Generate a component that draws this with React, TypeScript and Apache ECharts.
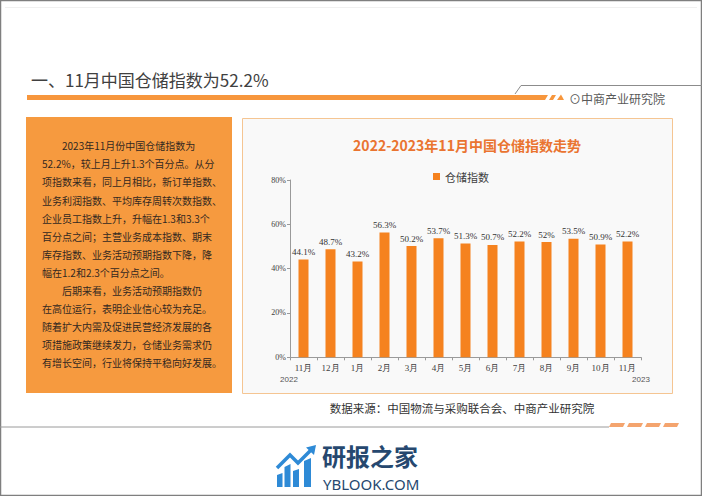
import React, { useEffect, useRef } from 'react';
import * as echarts from 'echarts';

const categories = ['11月', '12月', '1月', '2月', '3月', '4月', '5月', '6月', '7月', '8月', '9月', '10月', '11月'];
const storageIndex = [44.1, 48.7, 43.2, 56.3, 50.2, 53.7, 51.3, 50.7, 52.2, 52, 53.5, 50.9, 52.2];
const seriesName = '仓储指数';
const yMin = 0;
const yMax = 80;
const yInterval = 20;
const yearLabels = ['2022', '2023'];
const chartTitle = '2022-2023年11月中国仓储指数走势';
const pageTitle = '一、11月中国仓储指数为52.2%';
const brandText = '⊙中商产业研究院';
const sourceNote = '数据来源：中国物流与采购联合会、中商产业研究院';
const bodyLines = [
  '2023年11月份中国仓储指数为',
  '52.2%，较上月上升1.3个百分点。从分',
  '项指数来看，同上月相比，新订单指数、',
  '业务利润指数、平均库存周转次数指数、',
  '企业员工指数上升，升幅在1.3和3.3个',
  '百分点之间；主营业务成本指数、期末',
  '库存指数、业务活动预期指数下降，降',
  '幅在1.2和2.3个百分点之间。',
  '后期来看，业务活动预期指数仍',
  '在高位运行，表明企业信心较为充足。',
  '随着扩大内需及促进民营经济发展的各',
  '项措施政策继续发力，仓储业务需求仍',
  '有增长空间，行业将保持平稳向好发展。',
];
const indentedLines = [0, 8];
const logoCn = '研报之家';
const logoEn = 'YBLOOK.COM';

const ORANGE = '#F5821F';
const CJK = '"Noto Sans CJK SC", "Noto Sans", sans-serif';
const SERIF = '"Liberation Serif", "DejaVu Serif", serif';

export default function App() {
  const ref = useRef<HTMLDivElement>(null);
  useEffect(() => {
    if (!ref.current) return;
    const chart = echarts.init(ref.current, undefined, { renderer: 'svg' });

    const txt = (text: string, x: number, y: number, size: number, fill: string, opts: any = {}) => ({
      type: 'text',
      x,
      y,
      z: 1,
      silent: true,
      style: {
        text,
        fill,
        fontSize: size,
        fontFamily: opts.family || CJK,
        fontWeight: opts.weight || 'normal',
        textAlign: opts.align || 'left',
        textVerticalAlign: 'middle',
      },
    });

    const bodyTexts = bodyLines.map((line, i) =>
      txt(line, indentedLines.includes(i) ? 62 : 42, 145.7 + i * 18.1, 10, '#33281f')
    );

    const dashes = [0, 1, 2, 3].map((k) => ({
      type: 'polygon',
      z: 1,
      silent: true,
      shape: {
        points: [
          [609 + k * 18, 427],
          [611 + k * 18, 423],
          [625 + k * 18, 423],
          [623 + k * 18, 427],
        ],
      },
      style: { fill: '#F4A46E' },
    }));

    const logoBars = [
      [277, 473, 5.5, 14, 2],
      [284.5, 464, 6, 23, 3],
      [293, 469, 6, 18, 2],
      [304, 458, 7, 29, 3],
    ].map(([x, y, w, h, s]) => ({
      type: 'polygon',
      z: 1,
      silent: true,
      shape: { points: [[x, y + s], [x + w, y], [x + w, y + h], [x, y + h]] },
      style: { fill: '#2E8AD6' },
    }));

    const graphic: any[] = [
      {
        type: 'rect',
        z: 0,
        silent: true,
        shape: { x: 0.5, y: 0.5, width: 701, height: 495 },
        style: { fill: '#ffffff', stroke: '#7f7f7f', lineWidth: 1.5 },
      },
      {
        type: 'line',
        z: 1,
        silent: true,
        shape: { x1: 5, y1: 7.5, x2: 697, y2: 7.5 },
        style: { stroke: '#f0f0f0', lineWidth: 1 },
      },
      txt(pageTitle, 31, 79, 17, '#404040'),
      {
        type: 'polygon',
        z: 1,
        silent: true,
        shape: { points: [[27, 95], [548, 95], [545, 100], [27, 100]] },
        style: { fill: '#F7963C' },
      },
      {
        type: 'polygon',
        z: 1,
        silent: true,
        shape: { points: [[549, 100], [552, 95], [556, 95], [553, 100]] },
        style: { fill: '#F7963C' },
      },
      {
        type: 'polygon',
        z: 1,
        silent: true,
        shape: { points: [[557, 100], [561, 94.5], [564, 100]] },
        style: { fill: '#F7963C' },
      },
      {
        type: 'polyline',
        z: 1,
        silent: true,
        shape: { points: [[515, 94], [521, 85.5], [702, 85.5]] },
        style: { stroke: '#8c8c8c', lineWidth: 1, fill: 'none' },
      },
      txt(brandText, 569, 98, 12, '#595959'),
      {
        type: 'rect',
        z: 1,
        silent: true,
        shape: { x: 26, y: 117, width: 206, height: 276 },
        style: { fill: '#F69A3F' },
      },
      ...bodyTexts,
      {
        type: 'rect',
        z: 1,
        silent: true,
        shape: { x: 242.5, y: 118.5, width: 430, height: 275 },
        style: { fill: '#F9F9F9', stroke: '#F5C592', lineWidth: 1 },
      },
      txt(chartTitle, 467, 145, 14, '#EA7430', { weight: 'bold', align: 'center' }),
      txt(yearLabels[0], 289, 379, 8, '#555555', { family: '"Liberation Sans", Arial, sans-serif', align: 'center' }),
      txt(yearLabels[1], 641, 379, 8, '#555555', { family: '"Liberation Sans", Arial, sans-serif', align: 'center' }),
      txt(sourceNote, 462, 408, 11.5, '#333333', { align: 'center' }),
      {
        type: 'line',
        z: 1,
        silent: true,
        shape: { x1: 0, y1: 427, x2: 609, y2: 427 },
        style: { stroke: '#9a9a9a', lineWidth: 1 },
      },
      ...dashes,
      ...logoBars,
      {
        type: 'polyline',
        z: 1,
        silent: true,
        shape: { points: [[277, 468], [290, 455], [298, 463], [311, 450]] },
        style: { stroke: '#2E8AD6', lineWidth: 3.5, fill: 'none' },
      },
      {
        type: 'polygon',
        z: 1,
        silent: true,
        shape: { points: [[306, 447.5], [316, 445], [314, 455]] },
        style: { fill: '#2E8AD6' },
      },
      txt(logoCn, 322, 455, 24, '#26486F', { weight: 'bold' }),
      txt(logoEn, 323, 483.5, 15, '#26486F', { family: '"Noto Sans", sans-serif' }),
    ];

    chart.setOption({
      animation: false,
      backgroundColor: 'transparent',
      graphic,
      legend: {
        data: [seriesName],
        left: 428,
        top: 166,
        icon: 'rect',
        itemWidth: 7,
        itemHeight: 7,
        itemGap: 6,
        z: 10,
        textStyle: { fontSize: 11, color: '#404040', fontFamily: CJK },
        selectedMode: false,
      },
      grid: { left: 290, top: 180, width: 351, height: 177.3, containLabel: false },
      xAxis: {
        type: 'category',
        data: categories,
        z: 10,
        axisLine: { show: true, lineStyle: { color: '#9a9a9a', width: 1 } },
        axisTick: { show: true, length: 3, lineStyle: { color: '#9a9a9a' } },
        axisLabel: { fontSize: 9, color: '#404040', fontFamily: SERIF, margin: 6, interval: 0 },
      },
      yAxis: {
        type: 'value',
        min: yMin,
        max: yMax,
        interval: yInterval,
        z: 10,
        axisLine: { show: true, lineStyle: { color: '#9a9a9a', width: 1 } },
        axisTick: { show: true, length: 3, lineStyle: { color: '#9a9a9a' } },
        splitLine: { show: false },
        axisLabel: { formatter: '{value}%', fontSize: 8, color: '#404040', fontFamily: SERIF, margin: 4 },
      },
      series: [
        {
          name: seriesName,
          type: 'bar',
          data: storageIndex,
          barWidth: 10,
          z: 11,
          itemStyle: { color: ORANGE },
          label: {
            show: true,
            position: 'top',
            distance: 3,
            formatter: (p: any) => `${p.value}%`,
            fontSize: 9,
            fontFamily: SERIF,
            color: '#333333',
          },
        },
      ],
    });

    return () => chart.dispose();
  }, []);

  return (
    <div
      ref={ref}
      style={{ position: 'fixed', left: 0, top: 0, width: 702, height: 496, background: '#ffffff' }}
    />
  );
}
